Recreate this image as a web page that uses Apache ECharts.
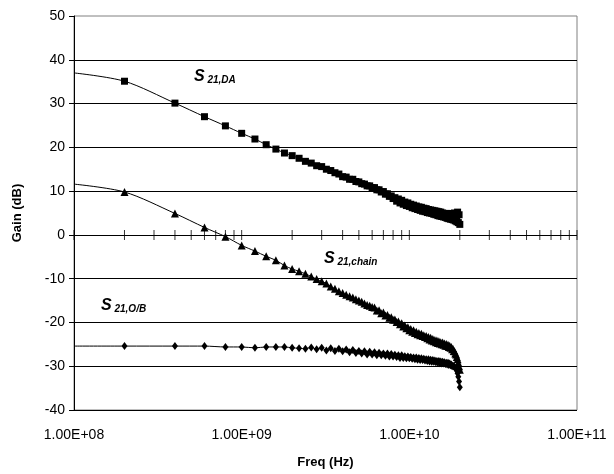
<!DOCTYPE html>
<html>
<head>
<meta charset="utf-8">
<script src="https://cdn.jsdelivr.net/npm/echarts@6/dist/echarts.min.js"></script>
<style>
  html, body { margin: 0; padding: 0; background: #fff; }
  #chart { width: 614px; height: 474px; }
</style>
</head>
<body>
<div id="chart"></div>
<script>
// 测量频点 (MHz)，200 MHz 步进
const freqMHz = [
  200, 400, 600, 800, 1000, 1200, 1400, 1600, 1800, 2000,
  2200, 2400, 2600, 2800, 3000, 3200, 3400, 3600, 3800, 4000,
  4200, 4400, 4600, 4800, 5000, 5200, 5400, 5600, 5800, 6000,
  6200, 6400, 6600, 6800, 7000, 7200, 7400, 7600, 7800, 8000,
  8200, 8400, 8600, 8800, 9000, 9200, 9400, 9600, 9800, 10000,
  10200, 10400, 10600, 10800, 11000, 11200, 11400, 11600, 11800, 12000,
  12200, 12400, 12600, 12800, 13000, 13200, 13400, 13600, 13800, 14000,
  14200, 14400, 14600, 14800, 15000, 15200, 15400, 15600, 15800, 16000,
  16200, 16400, 16600, 16800, 17000, 17200, 17400, 17600, 17800, 18000,
  18200, 18400, 18600, 18800, 19000, 19200, 19400, 19600, 19800, 20000
];

// 左边界处的起始点 (无标记)
const edgeFreqMHz = 100;
const edgeDA = 37.0;
const edgeChain = 11.6;
const edgeOB = -25.4;

// S21,DA (dB)
const gainDA = [
  35.1, 30.1, 27.0, 24.9, 23.2, 21.9, 20.6, 19.6, 18.7, 18.1,
  17.5, 16.8, 16.4, 15.8, 15.6, 15.0, 14.7, 14.2, 13.9, 13.3,
  13.2, 12.7, 12.7, 12.2, 12.1, 11.7, 11.6, 11.2, 11.2, 10.8,
  10.8, 10.3, 10.3, 9.8, 9.9, 9.3, 9.4, 8.8, 8.9, 8.3,
  8.5, 7.7, 8.2, 7.3, 7.9, 7.0, 7.5, 6.7, 7.3, 6.5,
  7.0, 6.2, 6.8, 6.0, 6.6, 5.8, 6.4, 5.6, 6.3, 5.4,
  6.1, 5.3, 6.0, 5.1, 5.8, 5.0, 5.7, 4.9, 5.6, 4.7,
  5.5, 4.6, 5.4, 4.4, 5.3, 4.3, 5.2, 4.2, 5.0, 4.1,
  4.9, 4.0, 4.9, 3.8, 4.8, 3.7, 4.8, 3.6, 4.9, 3.5,
  4.7, 3.4, 5.0, 3.2, 4.8, 3.0, 5.2, 2.8, 4.6, 2.4
];

// S21,chain (dB)
const gainChain = [
  9.8, 4.9, 1.7, -0.4, -2.4, -3.7, -4.9, -5.8, -7.0, -7.8,
  -8.3, -8.9, -9.5, -10.1, -10.6, -11.1, -11.8, -12.3, -12.9, -13.3,
  -13.7, -14.0, -14.3, -14.7, -15.0, -15.3, -15.7, -16.0, -16.2, -16.5,
  -16.6, -17.3, -17.2, -17.9, -17.7, -18.4, -18.3, -18.9, -18.8, -19.4,
  -19.3, -19.9, -19.8, -20.4, -20.2, -20.9, -20.7, -21.3, -21.1, -21.8,
  -21.5, -22.1, -21.8, -22.4, -22.1, -22.7, -22.4, -22.9, -22.6, -23.1,
  -22.9, -23.3, -23.1, -23.6, -23.3, -23.9, -23.5, -24.1, -23.8, -24.3,
  -24.0, -24.5, -24.1, -24.7, -24.3, -24.8, -24.5, -25.0, -24.6, -25.1,
  -24.8, -25.3, -24.9, -25.4, -25.1, -25.6, -25.3, -25.8, -25.6, -26.1,
  -26.0, -26.5, -26.6, -27.1, -27.3, -27.9, -28.4, -29.2, -30.0, -30.8
];

// S21,O/B (dB)
const gainOB = [
  -25.4, -25.4, -25.4, -25.6, -25.6, -25.8, -25.6, -25.6, -25.6, -25.8,
  -25.9, -26.0, -25.7, -26.1, -25.8, -26.4, -25.9, -26.5, -26.0, -26.6,
  -26.2, -26.8, -26.3, -27.0, -26.5, -27.1, -26.6, -27.3, -26.7, -27.3,
  -26.8, -27.5, -26.9, -27.5, -27.1, -27.6, -27.1, -27.8, -27.2, -27.8,
  -27.4, -27.9, -27.5, -28.1, -27.5, -28.1, -27.7, -28.2, -27.8, -28.2,
  -27.9, -28.3, -28.0, -28.4, -28.0, -28.5, -28.1, -28.6, -28.2, -28.6,
  -28.3, -28.7, -28.4, -28.8, -28.4, -28.9, -28.5, -29.0, -28.6, -29.0,
  -28.7, -29.1, -28.8, -29.2, -28.8, -29.3, -28.9, -29.4, -29.0, -29.4,
  -29.1, -29.5, -29.2, -29.6, -29.2, -29.7, -29.4, -29.8, -29.6, -30.0,
  -29.9, -30.0, -30.2, -30.4, -30.7, -31.0, -31.6, -32.4, -33.5, -34.8
];

// x 轴刻度：每个十倍频程的 1..9 倍
const tickDecades = [1e8, 1e9, 1e10];
const tickMultipliers = [1, 2, 3, 4, 5, 6, 7, 8, 9];

const FONT = 'Liberation Sans, Arial, sans-serif';

function buildSeriesData(edgeVal, values) {
  const data = [{ value: [edgeFreqMHz * 1e6, edgeVal], symbol: 'none' }];
  values.forEach(function(v, i) {
    data.push([freqMHz[i] * 1e6, v]);
  });
  return data;
}

function buildTicks() {
  const ticks = [];
  tickDecades.forEach(function(d) {
    tickMultipliers.forEach(function(m) {
      ticks.push([d * m, 0]);
    });
  });
  ticks.push([1e11, 0]);
  return ticks;
}

function expLabel(v) {
  const e = Math.round(Math.log10(v));
  return '1.00E+' + (e < 10 ? '0' + e : e);
}

function lineSeries(name, data, symbol, size) {
  return {
    name: name,
    type: 'line',
    data: data,
    smooth: 0.3,
    symbol: symbol,
    symbolSize: size,
    showAllSymbol: true,
    lineStyle: { color: '#000', width: 1 },
    itemStyle: { color: '#000' },
    z: 3
  };
}

// 标注文字：S + 下标
function seriesLabel(sub, left, top) {
  return {
    type: 'text',
    left: left,
    top: top,
    style: {
      text: '{s|S}{b| ' + sub + '}',
      fill: '#000',
      rich: {
        s: { fontSize: 16, fontWeight: 'bold', fontStyle: 'italic', fontFamily: FONT, verticalAlign: 'bottom' },
        b: { fontSize: 10, fontWeight: 'bold', fontStyle: 'italic', fontFamily: FONT, verticalAlign: 'bottom' }
      }
    }
  };
}

const chart = echarts.init(document.getElementById('chart'));

chart.setOption({
  animation: false,
  backgroundColor: '#fff',
  grid: {
    left: 74, right: 37, top: 16, bottom: 64,
    show: true, borderColor: '#808080', borderWidth: 1
  },
  xAxis: {
    type: 'log',
    logBase: 10,
    min: 1e8,
    max: 1e11,
    name: 'Freq (Hz)',
    nameLocation: 'middle',
    nameGap: 46,
    nameTextStyle: { fontSize: 13, fontWeight: 'bold', color: '#000', fontFamily: FONT },
    axisLine: { show: false },
    axisTick: { show: false },
    splitLine: { show: false },
    minorTick: { show: false },
    axisLabel: { fontSize: 14, color: '#000', fontFamily: FONT, margin: 18, formatter: expLabel }
  },
  yAxis: {
    type: 'value',
    min: -40,
    max: 50,
    interval: 10,
    name: 'Gain (dB)',
    nameLocation: 'middle',
    nameGap: 50,
    nameTextStyle: { fontSize: 13, fontWeight: 'bold', color: '#000', fontFamily: FONT },
    axisLine: { show: true, lineStyle: { color: '#000', width: 1 } },
    axisTick: { show: true, length: 5, lineStyle: { color: '#000' } },
    splitLine: { show: true, showMaxLine: false, lineStyle: { color: '#000', width: 1 } },
    axisLabel: { fontSize: 14, color: '#000', fontFamily: FONT, margin: 9 }
  },
  graphic: [
    seriesLabel('21,DA', 194, 69),
    seriesLabel('21,chain', 324, 251),
    seriesLabel('21,O/B', 101, 298)
  ],
  series: [
    lineSeries('S21,DA', buildSeriesData(edgeDA, gainDA), 'rect', 7),
    lineSeries('S21,chain', buildSeriesData(edgeChain, gainChain), 'triangle', 8),
    lineSeries('S21,O/B', buildSeriesData(edgeOB, gainOB), 'diamond', [6, 8]),
    {
      // y=0 处的 x 轴刻度线
      name: 'ticks',
      type: 'scatter',
      data: buildTicks(),
      symbol: 'rect',
      symbolSize: [1, 10],
      itemStyle: { color: '#000' },
      silent: true,
      z: 2
    }
  ]
});
</script>
</body>
</html>
